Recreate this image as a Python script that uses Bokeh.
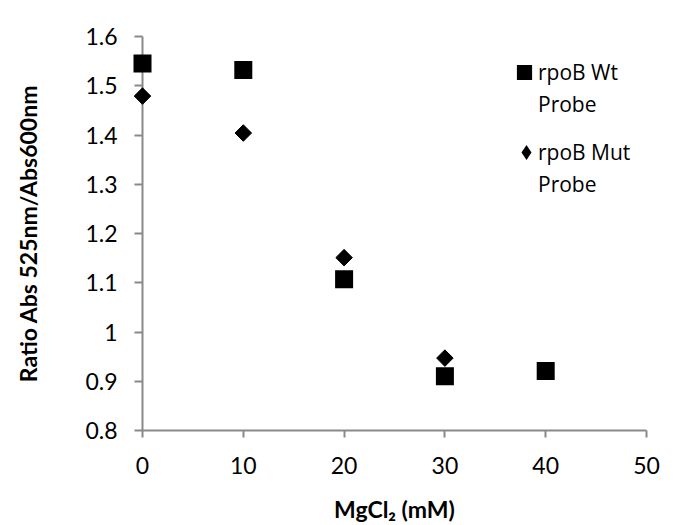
import numpy as np
from bokeh.plotting import figure
from bokeh.models import (Range1d, Legend, LegendItem, FixedTicker,
                          CustomJSTickFormatter)
from bokeh.embed import file_html
from bokeh.resources import INLINE

# ---- data ----
mgcl2_wt = [0, 10, 20, 30, 40]
ratio_wt = [1.545, 1.532, 1.107, 0.910, 0.921]
mgcl2_mut = [0, 10, 20, 30]
ratio_mut = [1.479, 1.404, 1.151, 0.947]
x_ticks = [0, 10, 20, 30, 40, 50]
y_ticks = [0.8, 0.9, 1.0, 1.1, 1.2, 1.3, 1.4, 1.5, 1.6]
legend_wt = ["rpoB Wt", "Probe"]
legend_mut = ["rpoB Mut", "Probe"]
x_title = "MgCl\u2082 (mM)"
y_title = "Ratio Abs 525nm/Abs600nm"

AXIS_GRAY = "#898989"
TICK_FONT = "Lato"

p = figure(
    frame_width=504, frame_height=394,
    min_border_left=142, min_border_right=36,
    min_border_top=36, min_border_bottom=86,
    x_range=Range1d(0, 50), y_range=Range1d(0.8, 1.6),
    output_backend="svg", toolbar_location=None,
    background_fill_color="white", border_fill_color="white",
)
p.outline_line_color = None
p.grid.visible = False

r_wt = p.scatter(mgcl2_wt, ratio_wt, marker="square", size=14, line_width=4,
                 fill_color="black", line_color="black", line_join="miter",
                 level="overlay")
# diamond-shaped key for the legend (lies fully under the visible diamonds)
r_mut_key = p.scatter(mgcl2_mut, ratio_mut, marker="diamond", size=1, line_width=3,
                      fill_color="black", line_color="black", line_join="miter",
                      level="overlay")
r_mut = p.scatter(mgcl2_mut, ratio_mut, marker="square", size=11.7, line_width=1,
                  angle=np.pi / 4, fill_color="black", line_color="black",
                  line_join="miter", level="overlay")
lg_blank = p.scatter(x=[], y=[], marker="square", fill_alpha=0, line_alpha=0)

for ax in (p.xaxis[0], p.yaxis[0]):
    ax.axis_line_color = AXIS_GRAY
    ax.axis_line_width = 2
    ax.major_tick_line_color = AXIS_GRAY
    ax.major_tick_line_width = 2
    ax.major_tick_in = 0
    ax.minor_tick_line_color = None
    ax.major_label_text_font = TICK_FONT
    ax.major_label_text_font_size = "23px"
    ax.major_label_text_color = "black"
    ax.axis_label_text_font = TICK_FONT
    ax.axis_label_text_font_style = "bold"
    ax.axis_label_text_font_size = "23px"
    ax.axis_label_text_color = "black"

p.xaxis.ticker = FixedTicker(ticks=x_ticks)
p.yaxis.ticker = FixedTicker(ticks=y_ticks)
p.yaxis.formatter = CustomJSTickFormatter(code="return String(Math.round(tick*10)/10)")
p.xaxis.major_tick_out = 7
p.yaxis.major_tick_out = 8
p.xaxis.major_label_standoff = 19
p.yaxis.major_label_standoff = 17
p.xaxis.axis_label = x_title
p.yaxis.axis_label = y_title
p.xaxis.axis_label_standoff = 18
p.yaxis.axis_label_standoff = 40


def make_legend(labels, glyph_r, gw, loc):
    leg = Legend(
        items=[LegendItem(label=labels[0], renderers=[glyph_r]),
               LegendItem(label=labels[1], renderers=[lg_blank])],
        location=loc, border_line_color=None, background_fill_alpha=0,
        label_text_font="Open Sans", label_text_font_size="21px",
        label_text_color="black",
        glyph_width=gw, glyph_height=32, label_height=32, spacing=0,
        padding=0, margin=0, label_standoff=0,
    )
    p.add_layout(leg)


make_legend(legend_wt, r_wt, 28, (368, 310))
make_legend(legend_mut, r_mut_key, 24, (372, 230))

open("out.html", "w").write(file_html(p, INLINE))
